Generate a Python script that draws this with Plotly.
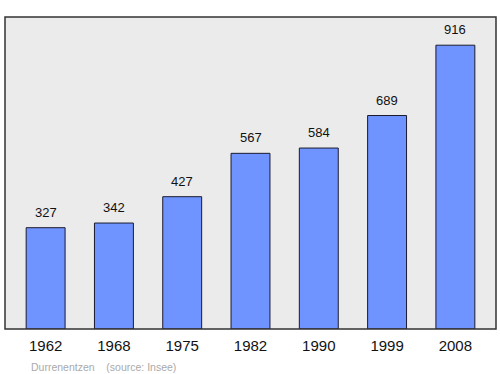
import plotly.graph_objects as go

years = ["1962", "1968", "1975", "1982", "1990", "1999", "2008"]
population = [327, 342, 427, 567, 584, 689, 916]
footer_name = "Durrenentzen"
footer_source = "(source: Insee)"

FONT = "Liberation Sans"

fig = go.Figure()
fig.add_trace(go.Bar(
    x=years, y=population, width=0.57,
    marker=dict(color="#7094ff", line=dict(color="#1a1a2e", width=1)),
    hoverinfo="skip",
))
for i, v in enumerate(population):
    fig.add_annotation(x=i, y=v, xref="x", yref="y", text=str(v), showarrow=False,
                       yanchor="bottom", yshift=6,
                       font=dict(family=FONT, size=13, color="#111111"))

fig.add_shape(type="rect", xref="paper", yref="paper", x0=0, y0=0, x1=1, y1=1,
              line=dict(color="#333333", width=1.5), layer="above")

fig.add_annotation(xref="paper", yref="paper", x=0.049, y=-0.095, xanchor="left", yanchor="top",
                   text=footer_name + "&nbsp;&nbsp;&nbsp;&nbsp;" + footer_source, showarrow=False,
                   font=dict(family=FONT, size=10.5, color="#aaaaaa"))

fig.update_layout(
    width=500, height=374,
    margin=dict(l=5, r=4, t=17, b=45),
    paper_bgcolor="white", plot_bgcolor="#ebebeb",
    showlegend=False,
    xaxis=dict(type="category", range=[-0.595, 6.595], showgrid=False, ticks="outside", ticklen=3,
               tickcolor="rgba(0,0,0,0)",
               tickfont=dict(family=FONT, size=15, color="#111111")),
    yaxis=dict(range=[0, 1007], showgrid=False, showticklabels=False, zeroline=False),
)
fig.write_html("out.html")
